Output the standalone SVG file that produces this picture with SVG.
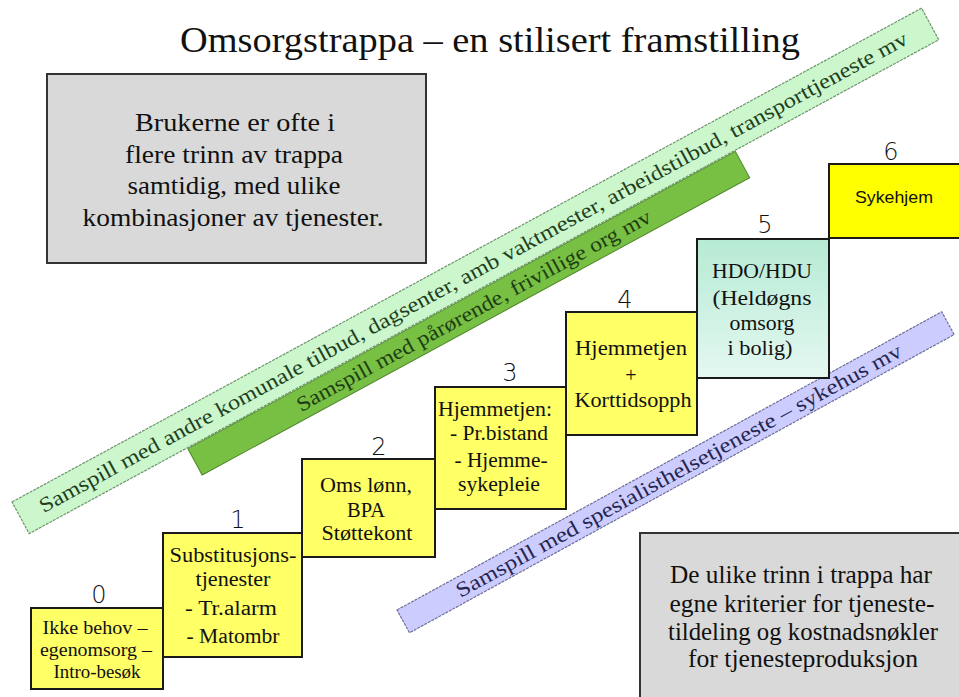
<svg xmlns="http://www.w3.org/2000/svg" width="959" height="697" viewBox="0 0 959 697">
<defs>
<linearGradient id="teal" x1="0" y1="0" x2="0" y2="1">
<stop offset="0" stop-color="#b6ead4"/>
<stop offset="1" stop-color="#e4f8f1"/>
</linearGradient>
<style>
.ser{font-family:"Liberation Serif","DejaVu Serif",serif;fill:#111;text-anchor:middle}
.num{font-family:"DejaVu Sans","Liberation Sans",sans-serif;font-size:24px;fill:#111;text-anchor:middle;font-weight:300}
.step{fill:#ffff66;stroke:#1a1a1a;stroke-width:2}
.gray{fill:#d9d9d9;stroke:#333;stroke-width:2}
.bt{font-size:20px}
.gt{font-size:25px}
.band{font-family:"Liberation Serif","DejaVu Serif",serif;font-size:21px;text-anchor:middle}
</style>
</defs>
<rect width="959" height="697" fill="#ffffff"/>
<text id="title" class="ser" x="490" y="52" font-size="36" textLength="620" lengthAdjust="spacingAndGlyphs">Omsorgstrappa – en stilisert framstilling</text>

<g id="band-komunale" transform="translate(12,502) rotate(-28.5)">
<rect x="180" y="37" width="623" height="30" fill="#78c044" stroke="#4f8a2a" stroke-width="1"/>
<text class="band" x="497" y="59" fill="#1e3d12" textLength="400" lengthAdjust="spacingAndGlyphs">Samspill med pårørende, frivillige org mv</text>
<rect x="0" y="0" width="1035" height="36" fill="#ccf7cc" stroke="#6e946e" stroke-width="1.2" stroke-dasharray="3 1"/>
<text class="band" x="515" y="25" fill="#1f3f1f" textLength="985" lengthAdjust="spacingAndGlyphs">Samspill med andre komunale tilbud, dagsenter, amb vaktmester, arbeidstilbud, transporttjeneste mv</text>
</g>

<g id="band-spesialist" transform="translate(397,610) rotate(-28.7)">
<rect x="0" y="0" width="621" height="26" fill="#ccccff" stroke="#6f6f99" stroke-width="1.2" stroke-dasharray="3 1"/>
<text class="band" x="314" y="20" fill="#26264f" textLength="505" lengthAdjust="spacingAndGlyphs">Samspill med spesialisthelsetjeneste – sykehus mv</text>
</g>

<g id="info-brukerne">
<rect class="gray" x="47" y="74" width="379" height="189"/>
<text class="ser gt" x="235" y="131" textLength="200" lengthAdjust="spacingAndGlyphs">Brukerne er ofte i</text>
<text class="ser gt" x="234" y="163" textLength="218" lengthAdjust="spacingAndGlyphs">flere trinn av trappa</text>
<text class="ser gt" x="234" y="194" textLength="213" lengthAdjust="spacingAndGlyphs">samtidig, med ulike</text>
<text class="ser gt" x="233" y="226" textLength="301" lengthAdjust="spacingAndGlyphs">kombinasjoner av tjenester.</text>
</g>

<g id="info-kriterier">
<rect class="gray" x="640" y="533" width="330" height="175"/>
<text class="ser gt" x="801" y="583" textLength="262" lengthAdjust="spacingAndGlyphs">De ulike trinn i trappa har</text>
<text class="ser gt" x="802" y="612" textLength="265" lengthAdjust="spacingAndGlyphs">egne  kriterier for tjeneste-</text>
<text class="ser gt" x="803" y="640" textLength="270" lengthAdjust="spacingAndGlyphs">tildeling og kostnadsnøkler</text>
<text class="ser gt" x="803" y="667" textLength="230" lengthAdjust="spacingAndGlyphs">for  tjenesteproduksjon</text>
</g>

<g id="step0">
<rect class="step" x="31" y="608" width="132" height="81"/>
<text class="num" x="99" y="603">0</text>
<text class="ser" font-size="18" x="95" y="634" textLength="105" lengthAdjust="spacingAndGlyphs">Ikke behov –</text>
<text class="ser" font-size="18" x="96" y="656" textLength="112" lengthAdjust="spacingAndGlyphs">egenomsorg –</text>
<text class="ser" font-size="18" x="97" y="678" textLength="87" lengthAdjust="spacingAndGlyphs">Intro-besøk</text>
</g>

<g id="step1">
<rect class="step" x="163" y="533" width="139" height="124"/>
<text class="num" x="238" y="528">1</text>
<text class="ser bt" x="233" y="562" textLength="127" lengthAdjust="spacingAndGlyphs">Substitusjons-</text>
<text class="ser bt" x="233" y="586" textLength="75" lengthAdjust="spacingAndGlyphs">tjenester</text>
<text class="ser bt" x="231" y="615" textLength="92" lengthAdjust="spacingAndGlyphs">- Tr.alarm</text>
<text class="ser bt" x="233" y="643" textLength="93" lengthAdjust="spacingAndGlyphs">- Matombr</text>
</g>

<g id="step2">
<rect class="step" x="302" y="459" width="133" height="98"/>
<text class="num" x="379" y="455">2</text>
<text class="ser bt" x="366" y="492" textLength="92" lengthAdjust="spacingAndGlyphs">Oms lønn,</text>
<text class="ser bt" x="366" y="517" textLength="38" lengthAdjust="spacingAndGlyphs">BPA</text>
<text class="ser bt" x="367" y="540" textLength="91" lengthAdjust="spacingAndGlyphs">Støttekont</text>
</g>

<g id="step3">
<rect class="step" x="435" y="387" width="131" height="122"/>
<text class="num" x="510" y="381">3</text>
<text class="ser bt" x="495" y="416" textLength="114" lengthAdjust="spacingAndGlyphs">Hjemmetjen:</text>
<text class="ser bt" x="499" y="440" textLength="98" lengthAdjust="spacingAndGlyphs">- Pr.bistand</text>
<text class="ser bt" x="501" y="467" textLength="93" lengthAdjust="spacingAndGlyphs">- Hjemme-</text>
<text class="ser bt" x="499" y="491" textLength="82" lengthAdjust="spacingAndGlyphs">sykepleie</text>
</g>

<g id="step4">
<rect class="step" x="566" y="312" width="131" height="123"/>
<text class="num" x="625" y="308">4</text>
<text class="ser bt" x="631" y="355" textLength="112" lengthAdjust="spacingAndGlyphs">Hjemmetjen</text>
<text class="ser bt" x="631" y="382">+</text>
<text class="ser bt" x="633" y="407" textLength="117" lengthAdjust="spacingAndGlyphs">Korttidsopph</text>
</g>

<g id="step5">
<rect x="697" y="239" width="132" height="139" fill="url(#teal)" stroke="#1a1a1a" stroke-width="2"/>
<text class="num" x="765" y="233">5</text>
<text class="ser bt" x="762" y="278" textLength="100" lengthAdjust="spacingAndGlyphs">HDO/HDU</text>
<text class="ser bt" x="762" y="305" textLength="99" lengthAdjust="spacingAndGlyphs">(Heldøgns</text>
<text class="ser bt" x="762" y="330" textLength="65" lengthAdjust="spacingAndGlyphs">omsorg</text>
<text class="ser bt" x="760" y="355" textLength="65" lengthAdjust="spacingAndGlyphs">i bolig)</text>
</g>

<g id="step6">
<rect x="829" y="164" width="140" height="74" fill="#ffff00" stroke="#1a1a1a" stroke-width="2"/>
<text class="num" x="891" y="160">6</text>
<text x="894" y="203" font-family="'Liberation Sans','DejaVu Sans',sans-serif" font-size="17" fill="#111" text-anchor="middle" textLength="78" lengthAdjust="spacingAndGlyphs">Sykehjem</text>
</g>

<g id="connectors"></g>
</svg>
